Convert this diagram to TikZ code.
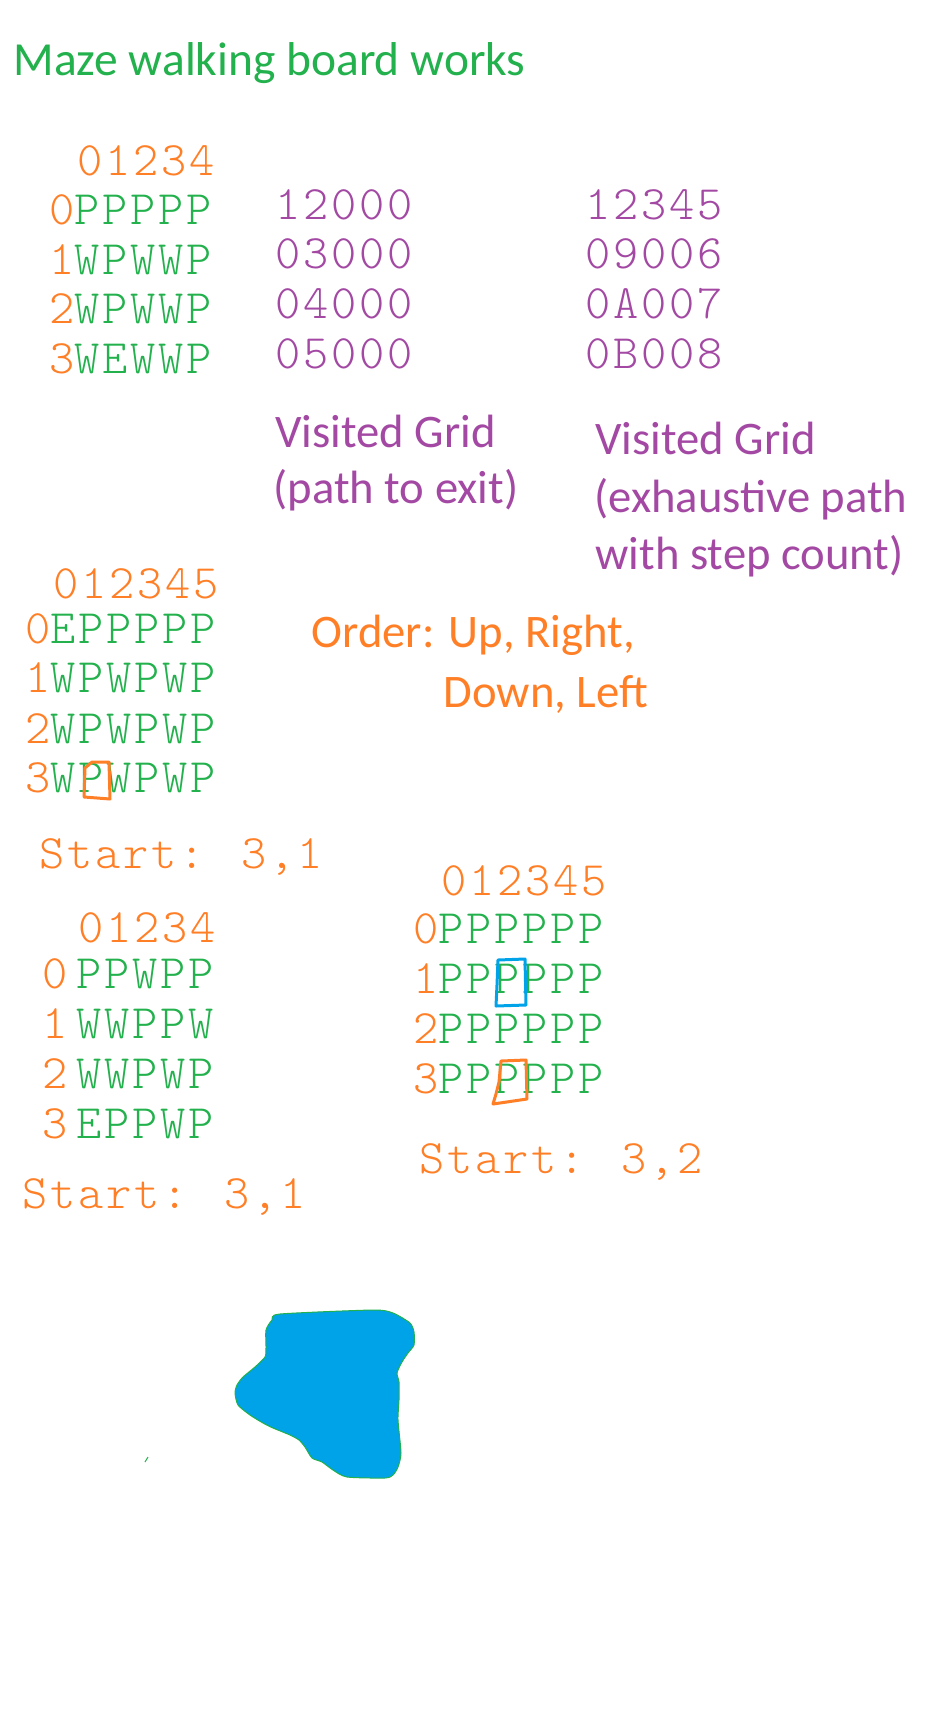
\documentclass[tikz,border=0pt]{standalone}
\usepackage{fontspec}
\setmainfont{Carlito}
\newfontfamily\gridfont{lmmonolt10-regular}[Extension=.otf, LetterSpace=5.8]
\definecolor{grn}{RGB}{34,177,76}
\definecolor{orng}{RGB}{255,127,39}
\definecolor{purp}{RGB}{163,73,164}
\definecolor{paintblue}{RGB}{0,162,232}
\tikzset{every picture/.style={line width=0.75pt}}
\tikzset{
  notetext/.style={anchor=base west, inner sep=0pt, font=\fontsize{35}{42}\selectfont},
  gridtext/.style={anchor=base west, inner sep=0pt, text height=22pt, text depth=0pt, font=\gridfont\fontsize{36}{42}\selectfont},
  handbox/.style={line width=2.25pt, line join=round, line cap=round},
}

\begin{document}
\begin{tikzpicture}[x=0.75pt,y=0.75pt,yscale=-1,xscale=1]
%set diagram left start at 0, and has height of 1736
\fill [white] (0,0) rectangle (928,1736);

% Text Node
\draw (13,75) node (title) [notetext, grn, font=\fontsize{35.6}{42}\selectfont] {Maze walking board works};

%Grid A
\draw (77,175) node (headA) [gridtext, orng] {01234};
\draw (49,224) node (rowAa) [gridtext, grn] {\textcolor{orng}{0}PPPPP};
\draw (49,274) node (rowAb) [gridtext, grn] {\textcolor{orng}{1}WPWWP};
\draw (49,323) node (rowAc) [gridtext, grn] {\textcolor{orng}{2}WPWWP};
\draw (49,373) node (rowAd) [gridtext, grn] {\textcolor{orng}{3}WEWWP};

%Visited grid (path to exit)
\draw (275,219) node (pathA) [gridtext, purp] {12000};
\draw (275,268) node (pathB) [gridtext, purp] {03000};
\draw (275,318) node (pathC) [gridtext, purp] {04000};
\draw (275,368) node (pathD) [gridtext, purp] {05000};
\draw (275,447) node (visA) [notetext, purp] {Visited Grid};
\draw (273,503) node (visAb) [notetext, purp] {(path to exit)};

%Visited grid (exhaustive)
\draw (585,219) node (stepA) [gridtext, purp] {12345};
\draw (585,268) node (stepB) [gridtext, purp] {09006};
\draw (585,318) node (stepC) [gridtext, purp] {0A007};
\draw (585,368) node (stepD) [gridtext, purp] {0B008};
\draw (595,454) node (visB) [notetext, purp] {Visited Grid};
\draw (594,512) node (visBb) [notetext, purp] {(exhaustive path};
\draw (595,569) node (visBc) [notetext, purp] {with step count)};

%Grid B
\draw (53,598) node (headB) [gridtext, orng] {012345};
\draw (25,643) node (rowBa) [gridtext, grn] {\textcolor{orng}{0}EPPPPP};
\draw (25,692) node (rowBb) [gridtext, grn] {\textcolor{orng}{1}WPWPWP};
\draw (25,743) node (rowBc) [gridtext, grn] {\textcolor{orng}{2}WPWPWP};
\draw (25,792) node (rowBd) [gridtext, grn] {\textcolor{orng}{3}WPWPWP};
%Shape: hand box
\draw [handbox, orng] (85,768) -- (92,762) -- (109,762) -- (110,799) -- (84,797) -- cycle ;
\draw (39,868) node (startB) [gridtext, orng] {Start: 3,1};

% Text Node
\draw (311,647) node (order) [notetext, orng] {Order: Up, Right,};
\draw (443,707) node (orderb) [notetext, orng] {Down, Left};

%Grid C
\draw (78,942) node (headC) [gridtext, orng] {01234};
\draw (42,988) node (rowCa) [gridtext, grn] {\textcolor{orng}{0}\hspace{6.75pt}PPWPP};
\draw (42,1038) node (rowCb) [gridtext, grn] {\textcolor{orng}{1}\hspace{6.75pt}WWPPW};
\draw (42,1088) node (rowCc) [gridtext, grn] {\textcolor{orng}{2}\hspace{6.75pt}WWPWP};
\draw (42,1138) node (rowCd) [gridtext, grn] {\textcolor{orng}{3}\hspace{6.75pt}EPPWP};
\draw (22,1208) node (startC) [gridtext, orng] {Start: 3,1};

%Grid D
\draw (441,895) node (headD) [gridtext, orng] {012345};
\draw (413,943) node (rowDa) [gridtext, grn] {\textcolor{orng}{0}PPPPPP};
\draw (413,993) node (rowDb) [gridtext, grn] {\textcolor{orng}{1}PPPPPP};
\draw (413,1043) node (rowDc) [gridtext, grn] {\textcolor{orng}{2}PPPPPP};
\draw (413,1093) node (rowDd) [gridtext, grn] {\textcolor{orng}{3}PPPPPP};
%Shape: hand boxes
\draw [handbox, paintblue] (498,960) -- (525,959) -- (526,1005) -- (496,1006) -- (497,985) -- cycle ;
\draw [handbox, orng] (501,1061) -- (526,1060) -- (527,1099) -- (493,1104) -- (496,1094) -- (499,1082) -- cycle ;
\draw (419,1173) node (startD) [gridtext, orng] {Start: 3,2};

%Shape: blob
\draw [grn, fill=paintblue] plot [smooth cycle, tension=0.4] coordinates {(280,1314) (373,1310) (393,1313) (410,1323) (414,1332) (414,1345) (408,1353) (402,1362) (397,1373) (399,1382) (399,1400) (398,1420) (401,1453) (398,1467) (393,1475) (385,1478) (347,1477) (333,1470) (322,1462) (312,1458) (305,1447) (299,1440) (290,1435) (273,1428) (263,1423) (250,1415) (238,1405) (235,1393) (237,1385) (243,1377) (255,1367) (265,1357) (266,1348) (266,1330) (272,1320)};
%Straight Lines
\draw [grn] (145,1462) -- (148,1457) ;

\end{tikzpicture}
\end{document}
